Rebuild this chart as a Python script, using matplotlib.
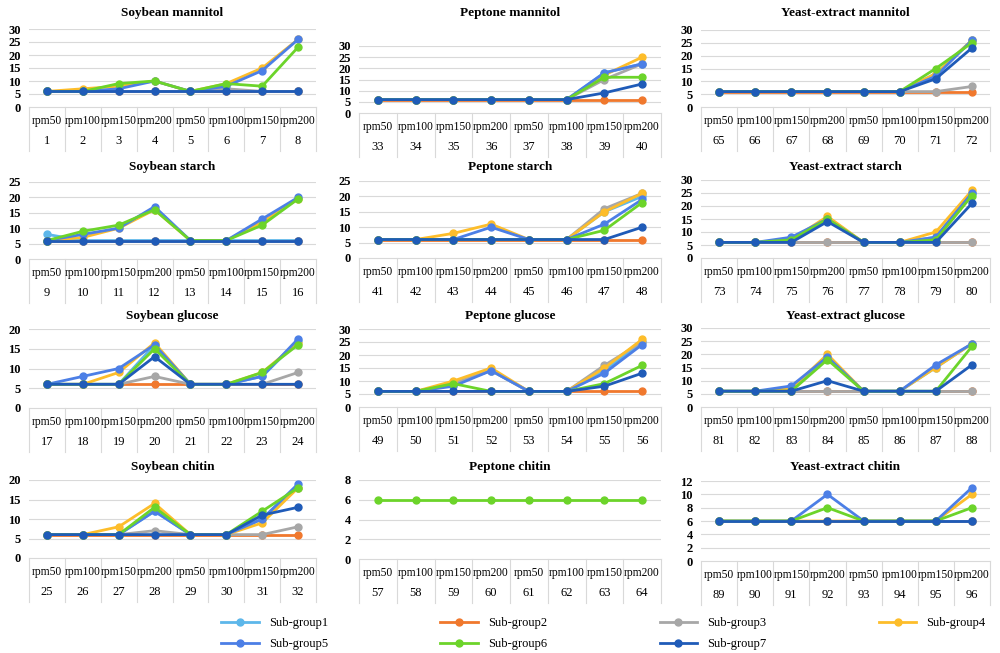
import numpy as np
import matplotlib
matplotlib.use("Agg")
import matplotlib.pyplot as plt
from matplotlib.lines import Line2D

plt.rcParams['font.family'] = ['Liberation Serif', 'DejaVu Serif']

W, H = 1000, 653

rpm_labels = ["rpm50", "rpm100", "rpm150", "rpm200", "rpm50", "rpm100", "rpm150", "rpm200"]
group_names = ["Sub-group1", "Sub-group2", "Sub-group3", "Sub-group4",
               "Sub-group5", "Sub-group6", "Sub-group7"]
group_colors = ["#5DB7EA", "#F0782D", "#A7A7A7", "#FDBD2A",
                "#4C7FE6", "#6CD42A", "#1F5BB8"]

titles = ["Soybean mannitol", "Peptone mannitol", "Yeast-extract mannitol",
          "Soybean starch", "Peptone starch", "Yeast-extract starch",
          "Soybean glucose", "Peptone glucose", "Yeast-extract glucose",
          "Soybean chitin", "Peptone chitin", "Yeast-extract chitin"]
first_sample = [1, 33, 65, 9, 41, 73, 17, 49, 81, 25, 57, 89]
y_max = [30, 30, 30, 25, 25, 30, 20, 30, 30, 20, 8, 12]
y_step = [5, 5, 5, 5, 5, 5, 5, 5, 5, 5, 2, 2]

N = None
# values per panel, one list per sub-group (1..7)
soy_mannitol = [
    [6, 6, 6, 6, 6, 6, 6, 6],
    [6, 6, 6, 6, 6, 6, 6, 6],
    [6, 6, 6, 6, 6, 7, 6, 6],
    [6, 7, 8, 10, 6, 9, 15, 26],
    [6, 6, 7, 10, 6, 8, 14, 26],
    [6, 6, 9, 10, 6, 9, 8, 23],
    [6, 6, 6, 6, 6, 6, 6, 6]]
pep_mannitol = [
    [6, 6, 6, 6, 6, 6, 18, 22],
    [6, 6, 6, 6, 6, 6, 6, 6],
    [6, 6, 6, 6, 6, 6, 15, 22],
    [6, 6, 6, 6, 6, 6, 17, 25],
    [6, 6, 6, 6, 6, 6, 18, 22],
    [6, 6, 6, 6, 6, 6, 16, 16],
    [6, 6, 6, 6, 6, 6, 9, 13]]
yeast_mannitol = [
    [6, 6, 6, 6, 6, 6, 13, 26],
    [6, 6, 6, 6, 6, 6, 6, 6],
    [6, 6, 6, 6, 6, 6, 6, 8],
    [6, 6, 6, 6, 6, 6, 13, 26],
    [6, 6, 6, 6, 6, 6, 12, 26],
    [6, 6, 6, 6, 6, 6, 15, 25],
    [6, 6, 6, 6, 6, 6, 11, 23]]
soy_starch = [
    [8, 6, 6, 6, 6, 6, 6, 6],
    [6, 6, 6, 6, 6, 6, 6, 6],
    [6, 6, 6, 6, 6, 6, 6, 6],
    [6, 7, 10, 16, 6, 6, 12, 19.5],
    [6, 8, 10, 17, 6, 6, 13, 20],
    [6, 9, 11, 16, 6, 6, 11, 19.5],
    [6, 6, 6, 6, 6, 6, 6, 6]]
pep_starch = [
    [6, 6, 6, 6, 6, 6, 15, 20],
    [6, 6, 6, 6, 6, 6, 6, 6],
    [6, 6, 6, 6, 6, 6, 16, 21],
    [6, 6, 8, 11, 6, 6, 15, 21],
    [6, 6, 6, 10, 6, 6, 11, 19],
    [6, 6, 6, 6, 6, 6, 9, 18],
    [6, 6, 6, 6, 6, 6, 6, 10]]
yeast_starch = [
    [6, 6, 7, 15, 6, 6, 8, 25],
    [6, 6, 6, 6, 6, 6, 6, 6],
    [6, 6, 6, 6, 6, 6, 6, 6],
    [6, 6, 7, 16, 6, 6, 10, 26],
    [6, 6, 8, 15, 6, 6, 8, 25],
    [6, 6, 7, 15, 6, 6, 7, 24],
    [6, 6, 6, 14, 6, 6, 6, 21]]
soy_glucose = [
    [6, 6, 6, 16, 6, 6, 8, 17],
    [6, 6, 6, 6, 6, 6, 6, 6],
    [6, 6, 6, 8, 6, 6, 6, 9],
    [6, 6, 9, 16.5, 6, 6, 9, 16.5],
    [6, 8, 10, 16, 6, 6, 8, 17.5],
    [6, 6, 6, 15, 6, 6, 9, 16],
    [6, 6, 6, 13, 6, 6, 6, 6]]
pep_glucose = [
    [6, 6, 9, 14, 6, 6, 14, 25],
    [6, 6, 6, 6, 6, 6, 6, 6],
    [6, 6, 9, 14, 6, 6, 16, 25],
    [6, 6, 10, 15, 6, 6, 15, 26],
    [6, 6, 8, 14, 6, 6, 13, 24],
    [6, 6, 9, 6, 6, 6, 9, 16],
    [6, 6, 6, 6, 6, 6, 8, 13]]
yeast_glucose = [
    [6, 6, 7, 19, 6, 6, 15, 24],
    [6, 6, 6, 6, 6, 6, 6, 6],
    [6, 6, 6, 6, 6, 6, 6, 6],
    [6, 6, 7, 20, 6, 6, 15, 24],
    [6, 6, 8, 19, 6, 6, 16, 24],
    [6, 6, 6, 18, 6, 6, 6, 23],
    [6, 6, 6, 10, 6, 6, 6, 16]]
soy_chitin = [
    [6, 6, 6, 12, 6, 6, 10, 18],
    [6, 6, 6, 6, 6, 6, 6, 6],
    [6, 6, 6, 7, 6, 6, 6, 8],
    [6, 6, 8, 14, 6, 6, 9, 18],
    [6, 6, 6, 12, 6, 6, 10, 19],
    [6, 6, 6, 13, 6, 6, 12, 18],
    [6, 6, 6, 6, 6, 6, 11, 13]]
pep_chitin = [
    [N] * 8, [N] * 8, [N] * 8, [N] * 8, [N] * 8,
    [6, 6, 6, 6, 6, 6, 6, 6],
    [N] * 8]
yeast_chitin = [
    [6, 6, 6, 6, 6, 6, 6, 6],
    [6, 6, 6, 6, 6, 6, 6, 6],
    [6, 6, 6, 6, 6, 6, 6, 6],
    [6, 6, 6, 6, 6, 6, 6, 10],
    [6, 6, 6, 10, 6, 6, 6, 11],
    [6, 6, 6, 8, 6, 6, 6, 8],
    [6, 6, 6, 6, 6, 6, 6, 6]]

panels = [soy_mannitol, pep_mannitol, yeast_mannitol,
          soy_starch, pep_starch, yeast_starch,
          soy_glucose, pep_glucose, yeast_glucose,
          soy_chitin, pep_chitin, yeast_chitin]

# layout in pixels: category band left/right per column, y of top tick / zero per panel
col_x = [(29, 316), (359, 661), (701, 990)]
panel_y = [(29, 107), (46, 113), (30, 107),
           (182, 259), (181, 258), (180, 258),
           (329, 408), (329, 407), (328, 407),
           (480, 558), (480, 559), (481, 561)]
title_y = [13, 167, 316, 467]

grid_c = "#D9D9D9"

fig = plt.figure(figsize=(W / 100, H / 100), dpi=100)

for i, data in enumerate(panels):
    r, c = divmod(i, 3)
    x0, x1 = col_x[c]
    yt, yb = panel_y[i]
    ax = fig.add_axes([x0 / W, 1 - yb / H, (x1 - x0) / W, (yb - yt) / H])
    h_px = yb - yt
    x = np.arange(8)

    for g in range(7):
        vals = np.array([np.nan if v is None else v for v in data[g]], dtype=float)
        ax.plot(x, vals, color=group_colors[g], lw=2.0, marker='o', ms=5,
                clip_on=False, zorder=3 + g)

    ax.set_xlim(-0.5, 7.5)
    ax.set_ylim(0, y_max[i])
    ax.set_yticks(np.arange(0, y_max[i] + 0.1, y_step[i]))
    ax.tick_params(axis='y', length=0, labelsize=9, pad=6)
    for lab in ax.get_yticklabels():
        lab.set_fontweight('bold')
    ax.set_xticks([])
    for s in ax.spines.values():
        s.set_visible(False)
    for yv in np.arange(y_step[i], y_max[i] + 0.1, y_step[i]):
        ax.axhline(yv, color=grid_c, lw=0.8, zorder=1)

    # table-like category axis below the plot
    tr = ax.get_xaxis_transform()
    ax.plot([-0.5, 7.5], [0, 0], transform=tr, color=grid_c, lw=0.8, clip_on=False)
    for k in range(9):
        ax.plot([k - 0.5, k - 0.5], [0, -44 / h_px], transform=tr,
                color=grid_c, lw=0.8, clip_on=False)
    for k in range(8):
        ax.annotate(rpm_labels[k], (k, 0), xycoords=tr, xytext=(0, -14),
                    textcoords='offset pixels', ha='center', va='center',
                    fontsize=8.3)
        ax.annotate(str(first_sample[i] + k), (k, 0), xycoords=tr, xytext=(0, -34),
                    textcoords='offset pixels', ha='center', va='center',
                    fontsize=9)

    fig.text((x0 + x1) / 2 / W, 1 - title_y[r] / H, titles[i], ha='center',
             va='center', fontsize=9.5, fontweight='bold')

handles = [Line2D([0], [0], color=group_colors[g], lw=2.0, marker='o', ms=5)
           for g in range(7)]
# legend is filled row by row: 1-4 on top, 5-7 below
order = [0, 4, 1, 5, 2, 6, 3]
fig.legend([handles[k] for k in order], [group_names[k] for k in order],
           loc='upper left', bbox_to_anchor=(215 / W, 1 - 611 / H), ncol=4,
           frameon=False, fontsize=9, borderpad=0, columnspacing=9.0,
           handlelength=3, labelspacing=0.7)

fig.savefig("out.png", dpi=100)
